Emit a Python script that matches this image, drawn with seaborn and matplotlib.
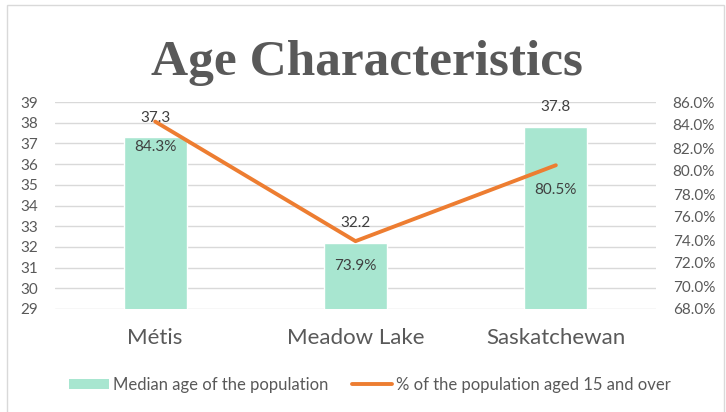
import matplotlib
matplotlib.use("Agg")
import matplotlib.pyplot as plt
import seaborn as sns
from matplotlib.patches import Patch, Rectangle
from matplotlib.lines import Line2D
from matplotlib.ticker import FuncFormatter

# data
categories = ["Métis", "Meadow Lake", "Saskatchewan"]
median_age = [37.3, 32.2, 37.8]
pct_15_over = [84.3, 73.9, 80.5]
left_ticks = list(range(29, 40))
right_ticks = list(range(68, 87, 2))

bar_color = "#A8E6D0"
line_color = "#ED7D31"
grey = "#595959"
label_color = "#404040"

sns.set_theme(style="white")
plt.rcParams["font.family"] = ["Lato", "DejaVu Sans"]

fig = plt.figure(figsize=(7.26, 4.12), dpi=100)
ax = fig.add_axes([55 / 726, 1 - 309 / 412, 601 / 726, 207 / 412])

sns.barplot(x=categories, y=median_age, ax=ax, color=bar_color, width=0.315,
            saturation=1, zorder=2)
ax.set_ylim(29, 39)
ax.set_yticks(left_ticks)
ax.set_xlim(-0.5, 2.5)
ax.yaxis.grid(True, color="#D9D9D9", linewidth=1, zorder=0)
ax.set_axisbelow(True)
ax.set_xlabel("")
ax.set_ylabel("")
ax.tick_params(axis="y", length=0, pad=12, labelsize=11, labelcolor=grey)
ax.tick_params(axis="x", length=0, pad=14, labelsize=16, labelcolor=grey)
for s in ax.spines.values():
    s.set_visible(False)

for i, v in enumerate(median_age):
    ax.annotate(f"{v}", (i, v), xytext=(0, 14), textcoords="offset points",
                ha="center", va="center", fontsize=11, color=label_color)

ax2 = ax.twinx()
sns.lineplot(x=categories, y=pct_15_over, ax=ax2, color=line_color,
             linewidth=2.8, sort=False, legend=False)
ax2.set_ylim(68, 86)
ax2.set_yticks(right_ticks)
ax2.yaxis.set_major_formatter(FuncFormatter(lambda v, p: f"{v:.1f}%"))
ax2.set_ylabel("")
ax2.tick_params(axis="y", length=0, pad=12, labelsize=11, labelcolor=grey)
ax2.grid(False)
for s in ax2.spines.values():
    s.set_visible(False)
ax.set_xlim(-0.5, 2.5)

for i, v in enumerate(pct_15_over):
    ax2.annotate(f"{v:.1f}%", (i, v), xytext=(0, -18), textcoords="offset points",
                 ha="center", va="center", fontsize=11, color=label_color)

fig.text(367 / 726, 1 - 75 / 412, "Age Characteristics", ha="center", va="baseline",
         fontsize=37, fontweight="bold", color=grey, family="Liberation Serif")

handles = [
    Patch(facecolor=bar_color, edgecolor="none", label="Median age of the population"),
    Line2D([], [], color=line_color, linewidth=2.8, label="% of the population aged 15 and over"),
]
fig.legend(handles=handles, loc="center", bbox_to_anchor=(370 / 726, 1 - 385 / 412),
           ncol=2, frameon=False, fontsize=12, labelcolor=grey, handlelength=2.4,
           handleheight=0.6, handletextpad=0.25, columnspacing=1.4)

fig.patches.append(Rectangle((7 / 726, -0.1), 717 / 726, 1.1 - 5 / 412,
                             transform=fig.transFigure, fill=False,
                             edgecolor="#D9D9D9", linewidth=1))

fig.savefig("out.png", dpi=100)
